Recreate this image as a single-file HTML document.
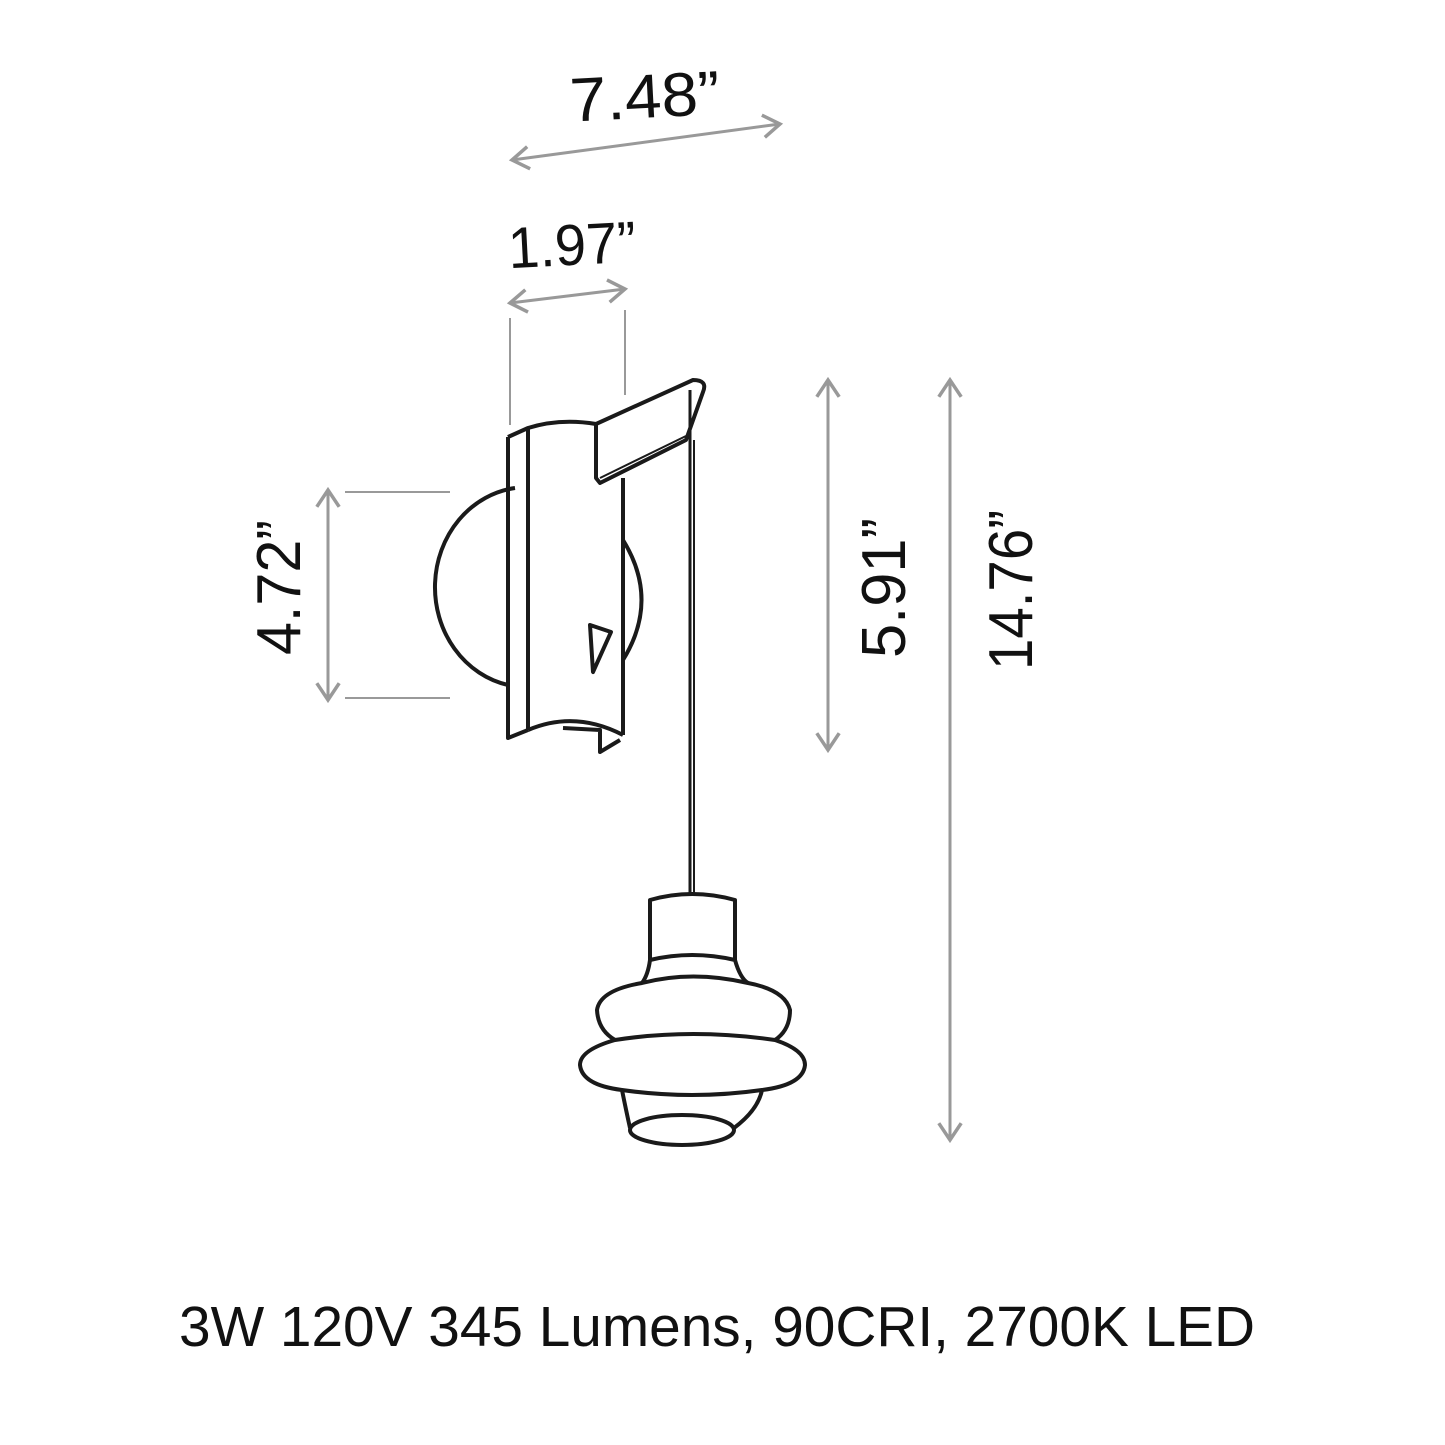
<!DOCTYPE html>
<html><head><style>
html,body{margin:0;padding:0;background:#fff;}
svg{display:block;}
</style></head><body>
<svg width="1445" height="1445" viewBox="0 0 1445 1445" xmlns="http://www.w3.org/2000/svg">
<defs>
<marker id="a" viewBox="0 0 20 20" refX="16" refY="10" markerWidth="28" markerHeight="28" markerUnits="userSpaceOnUse" orient="auto-start-reverse">
<path d="M4 2 L16 10 L4 18" fill="none" stroke="#999" stroke-width="2.5"/>
</marker>
</defs>
<g font-family="Liberation Sans, sans-serif" fill="#111">
<text x="570" y="118" font-size="62" textLength="150" lengthAdjust="spacingAndGlyphs" transform="rotate(-3 640 100)">7.48”</text>
<text x="508" y="265" font-size="58" textLength="128" lengthAdjust="spacingAndGlyphs" transform="rotate(-3 570 245)">1.97”</text>
<text transform="translate(300 655) rotate(-90)" font-size="62" textLength="135" lengthAdjust="spacingAndGlyphs">4.72”</text>
<text transform="translate(905 658) rotate(-90)" font-size="62" textLength="140" lengthAdjust="spacingAndGlyphs">5.91”</text>
<text transform="translate(1032 670) rotate(-90)" font-size="62" textLength="160" lengthAdjust="spacingAndGlyphs">14.76”</text>
<text x="179" y="1346" font-size="57" textLength="1076" lengthAdjust="spacingAndGlyphs">3W 120V 345 Lumens, 90CRI, 2700K LED</text>
</g>
<g stroke="#999" stroke-width="3" fill="none">
<line x1="512" y1="160" x2="780" y2="124" marker-start="url(#a)" marker-end="url(#a)"/>
<line x1="510" y1="303" x2="625" y2="289" marker-start="url(#a)" marker-end="url(#a)"/>
<line x1="510" y1="318" x2="510" y2="425" stroke-width="2"/>
<line x1="625" y1="310" x2="625" y2="395" stroke-width="2"/>
<line x1="328" y1="490" x2="328" y2="700" marker-start="url(#a)" marker-end="url(#a)"/>
<line x1="345" y1="492" x2="450" y2="492" stroke-width="2"/>
<line x1="345" y1="698" x2="450" y2="698" stroke-width="2"/>
<line x1="828" y1="380" x2="828" y2="750" marker-start="url(#a)" marker-end="url(#a)"/>
<line x1="950" y1="380" x2="950" y2="1140" marker-start="url(#a)" marker-end="url(#a)"/>
</g>
<g stroke="#1a1a1a" stroke-width="4" fill="none" stroke-linejoin="round">
<path d="M515 488 A92 100 0 0 0 508 685"/>
<path d="M623 540 Q660 600 623 660"/>
<path d="M508 437 L508 738 L528 730"/>
<path d="M508 437 L528 428 Q560 418 596 424"/>
<line x1="528" y1="428" x2="528" y2="730"/>
<path d="M596 424 L693 380 Q708 380 703 392 L686 440 L600 483 L596 478 Z"/>
<line x1="600" y1="478" x2="686" y2="436" stroke-width="2"/>
<line x1="623" y1="478" x2="623" y2="735"/>
<path d="M528 730 Q575 710 623 735"/>
<path d="M563 728 L600 730 L600 752 L620 740"/>
<path d="M590 625 L611 632 L593 672 Z"/>
<line x1="690" y1="390" x2="690" y2="895" stroke-width="3"/>
<line x1="694" y1="440" x2="694" y2="895" stroke-width="2"/>
<path d="M650 960 L650 900 Q692 888 735 900 L735 960"/>
<path d="M650 960 Q692 950 735 960 Q740 978 748 983 Q692 970 642 983 Q648 975 650 960"/>
<path d="M642 983 Q600 990 597 1010 Q598 1030 615 1040 Q692 1028 775 1040 Q790 1030 790 1010 Q785 990 748 983"/>
<path d="M615 1040 Q580 1050 580 1065 Q582 1085 622 1090 Q626 1110 630 1128 M775 1040 Q805 1050 805 1065 Q803 1085 762 1090 Q758 1110 734 1128"/>
<path d="M622 1090 Q692 1100 762 1090"/>
<ellipse cx="682" cy="1130" rx="52" ry="15"/>
</g>
</svg>
</body></html>
